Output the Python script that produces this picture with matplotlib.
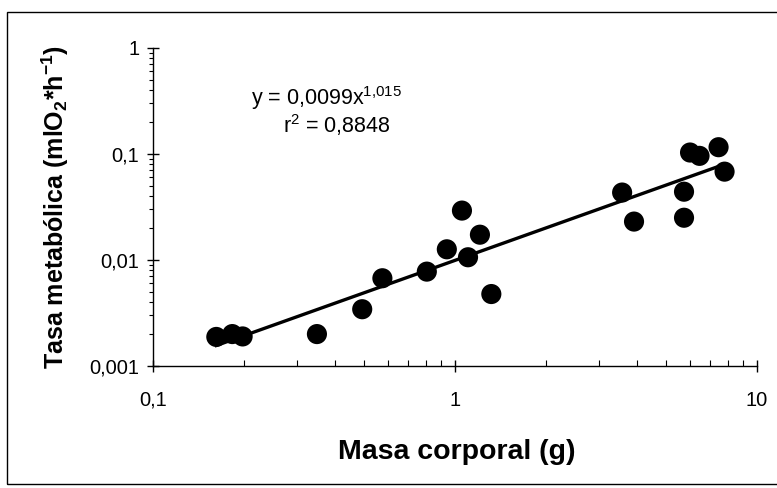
import numpy as np
import matplotlib
matplotlib.use("Agg")
import matplotlib.pyplot as plt
from matplotlib.ticker import LogLocator, FixedLocator, NullFormatter
from matplotlib.patches import Rectangle

plt.rcParams['font.family'] = ['Liberation Sans', 'DejaVu Sans']
plt.rcParams['mathtext.default'] = 'regular'

# Body mass (g) and metabolic rate (ml O2 / h)
masa = [0.162, 0.183, 0.198, 0.349, 0.493, 0.575, 0.807, 0.94, 1.055, 1.105,
        1.21, 1.32, 3.58, 3.92, 5.74, 5.74, 6.01, 6.46, 7.47, 7.82]
tasa = [0.00188, 0.0020, 0.0019, 0.0020, 0.00343, 0.00672, 0.00776, 0.0126, 0.0292, 0.0106,
        0.0173, 0.00477, 0.0432, 0.023, 0.044, 0.025, 0.103, 0.0958, 0.1156, 0.068]

# Power fit y = a * x^b
coef_a = 0.0099
coef_b = 1.015
r2 = 0.8848

x_ticks = [0.1, 1, 10]
x_tick_labels = ['0,1', '1', '10']
y_ticks = [0.001, 0.01, 0.1, 1]
y_tick_labels = ['0,001', '0,01', '0,1', '1']

fig = plt.figure(figsize=(7.77, 4.88), dpi=100)
ax = fig.add_axes([0.197, 0.25, 0.777, 0.652])

xf = np.logspace(np.log10(min(masa)), np.log10(max(masa)), 100)
ax.plot(xf, coef_a * xf ** coef_b, color='black', lw=2.4, zorder=2)
ax.scatter(masa, tasa, s=210, color='black', edgecolors='none', zorder=3)

ax.set_xscale('log')
ax.set_yscale('log')
ax.set_xlim(0.1, 10)
ax.set_ylim(0.001, 1)

ax.xaxis.set_major_locator(FixedLocator(x_ticks))
ax.set_xticklabels(x_tick_labels)
ax.yaxis.set_major_locator(FixedLocator(y_ticks))
ax.set_yticklabels(y_tick_labels)
ax.xaxis.set_minor_locator(LogLocator(base=10, subs=np.arange(2, 10)))
ax.yaxis.set_minor_locator(LogLocator(base=10, subs=np.arange(2, 10)))
ax.xaxis.set_minor_formatter(NullFormatter())
ax.yaxis.set_minor_formatter(NullFormatter())

for side in ('top', 'right'):
    ax.spines[side].set_visible(False)
for side in ('left', 'bottom'):
    ax.spines[side].set_linewidth(1.0)

ax.tick_params(axis='x', which='major', direction='inout', length=8, width=1,
               labelsize=14.5, pad=14)
ax.tick_params(axis='x', which='minor', direction='in', length=4, width=0.8)
ax.tick_params(axis='y', which='major', direction='inout', length=8, width=1,
               labelsize=14.5, pad=6)
ax.tick_params(axis='y', which='minor', direction='out', length=3, width=0.8)

ax.set_xlabel('Masa corporal (g)', fontsize=20.5, fontweight='bold', va='center')
ax.xaxis.set_label_coords(0.503, -0.270)
ax.set_ylabel('Tasa metabólica (mlO$_{2}$*h$^{-1}$)', fontsize=18,
              fontweight='bold', va='center')
ax.yaxis.set_label_coords(-0.162, 0.5)

ax.text(0.288, 0.843, 'y = 0,0099x$^{1{,}015}$', transform=ax.transAxes,
        ha='center', va='center', fontsize=15.5)
ax.text(0.305, 0.758, 'r$^{2}$ = 0,8848', transform=ax.transAxes,
        ha='center', va='center', fontsize=15.5)

# Chart frame
fig.patches.append(Rectangle((7 / 777, 4 / 488), 1.2, 472 / 488,
                             transform=fig.transFigure, fill=False,
                             edgecolor='black', lw=1.0))

fig.savefig('out.png', dpi=100, facecolor='white')
